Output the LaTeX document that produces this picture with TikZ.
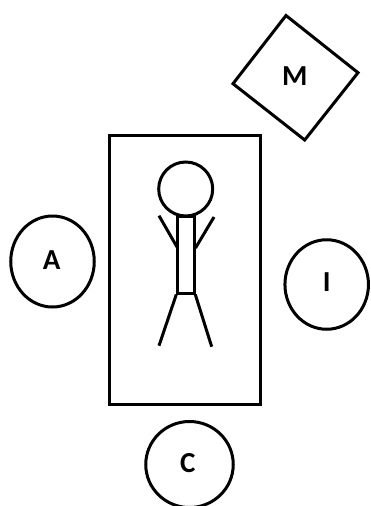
\documentclass[tikz,border=0pt]{standalone}
\usepackage{fontspec}
\setmainfont{Carlito}
\usetikzlibrary{shapes.geometric}
\begin{document}
\begin{tikzpicture}[x=1pt,y=-1pt,
  line width=3pt,
  lbl/.style={font=\bfseries\fontsize{29}{32}\selectfont,inner sep=0pt},
  disc/.style={ellipse,draw,line width=3pt,inner sep=0pt}]
\useasboundingbox (0,0) rectangle (370,506);
\node[disc,minimum width=83.5pt,minimum height=91pt] (Ac) at (52.5,261.5) {};
\node[disc,minimum width=83.5pt,minimum height=89.5pt] (Ic) at (326.7,284.5) {};
\node[disc,minimum width=87.5pt,minimum height=86pt] (Cc) at (189.5,464.5) {};
\node[lbl] (A) at (51.7,260.5) {A};
\node[lbl] (I) at (326.7,282.5) {I};
\node[lbl] (C) at (187.7,463.5) {C};
\node[draw,line width=3pt,minimum width=151pt,minimum height=269pt,inner sep=0pt] (bed) at (185,269.5) {};
\node[circle,draw,line width=3pt,minimum size=54pt,inner sep=0pt] (head) at (185.7,189) {};
\node[draw,line width=3pt,minimum width=17pt,minimum height=77pt,inner sep=0pt] (body) at (185.8,254.5) {};
\coordinate (la) at (159,215.7);
\coordinate (lb) at (177,247);
\coordinate (ra) at (214,217);
\coordinate (rb) at (195.5,248);
\coordinate (ll) at (159,345.7);
\coordinate (rl) at (211.7,346.7);
\draw (lb) -- (la);
\draw (rb) -- (ra);
\draw (body.south west) ++(0.5,0) -- (ll);
\draw (body.south east) ++(-0.5,0) -- (rl);
\coordinate (d1) at (286,15.5);
\coordinate (d2) at (358,72.7);
\coordinate (d3) at (304.7,140);
\coordinate (d4) at (233,83.7);
\draw[miter limit=10] (d1) -- (d2) -- (d3) -- (d4) -- cycle;
\node[lbl] (M) at (294.7,75.7) {M};
\end{tikzpicture}
\end{document}
